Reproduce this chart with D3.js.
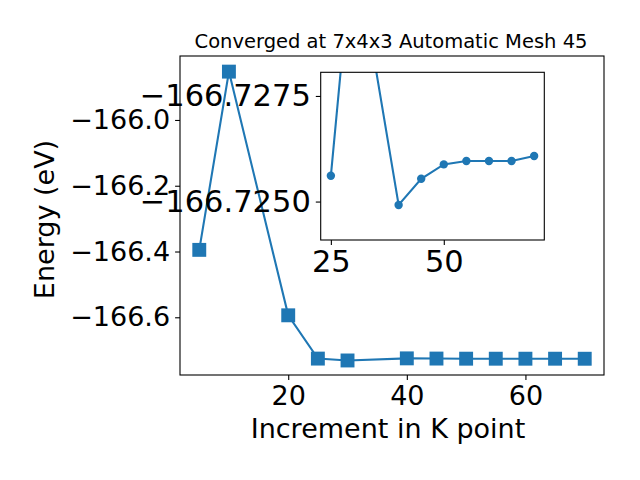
<!DOCTYPE html>
<html>
<head>
<meta charset="utf-8">
<script src="https://cdn.jsdelivr.net/npm/d3@7"></script>
<style>
  html, body { margin: 0; padding: 0; background: #fff; }
  svg { display: block; }
  text { font-family: "DejaVu Sans", sans-serif; fill: #000; }
</style>
</head>
<body>
<svg id="chart" width="640" height="480"></svg>
<script>
// ---- data ----
const kpoints = [5, 10, 20, 25, 30, 40, 45, 50, 55, 60, 65, 70];
const energies = [-166.395, -165.853, -166.594, -166.72561, -166.7313, -166.72492, -166.72554, -166.72588, -166.72596, -166.72596, -166.72596, -166.72608];
const insetK = [25, 30, 40, 45, 50, 55, 60, 65, 70];
const insetE = [-166.72561, -166.7313, -166.72492, -166.72554, -166.72588, -166.72596, -166.72596, -166.72596, -166.72608];
const mainXTicks = [20, 40, 60];
const mainYTicks = [-166.6, -166.4, -166.2, -166.0];
const insetXTicks = [25, 50];
const insetYTicks = [-166.7275, -166.7250];
const titleText = "Converged at 7x4x3 Automatic Mesh 45";
const xLabel = "Increment in K point";
const yLabel = "Energy (eV)";

const color = "#1f77b4";
const svg = d3.select("#chart");

// ---- main axes ----
const M = { left: 180, right: 604, top: 56, bottom: 375 };
const x = d3.scaleLinear().domain([1.75, 73.25]).range([M.left, M.right]);
const y = d3.scaleLinear().domain([-166.7755, -165.8055]).range([M.bottom, M.top]);

const fmt1 = d3.format(".1f");
const tickFont = "27px";
const insetFont = "30.5px";

const gx = svg.append("g").attr("transform", `translate(0,${M.bottom})`)
  .call(d3.axisBottom(x).tickValues(mainXTicks).tickSize(4.9).tickPadding(6).tickFormat(d3.format("d")));
const gy = svg.append("g").attr("transform", `translate(${M.left},0)`)
  .call(d3.axisLeft(y).tickValues(mainYTicks).tickSize(4.9).tickPadding(5).tickFormat(fmt1));
[gx, gy].forEach(g => {
  g.select(".domain").remove();
  g.selectAll(".tick line").attr("stroke", "#000").attr("stroke-width", 1.1);
  g.selectAll(".tick text").style("font-size", tickFont).style("font-family", "DejaVu Sans").attr("fill", "#000");
});

const line = d3.line().x((d, i) => x(kpoints[i])).y(d => y(d));
svg.append("path").datum(energies).attr("d", line)
  .attr("fill", "none").attr("stroke", color).attr("stroke-width", 2.1);
const ms = 13.9;
svg.selectAll("rect.mk").data(energies).enter().append("rect").attr("class", "mk")
  .attr("x", (d, i) => x(kpoints[i]) - ms / 2).attr("y", d => y(d) - ms / 2)
  .attr("width", ms).attr("height", ms).attr("fill", color);

svg.append("rect").attr("x", M.left).attr("y", M.top)
  .attr("width", M.right - M.left).attr("height", M.bottom - M.top)
  .attr("fill", "none").attr("stroke", "#000").attr("stroke-width", 1.1);

// labels
svg.append("text").attr("x", 388).attr("y", 438)
  .attr("text-anchor", "middle").style("font-size", "27px").text(xLabel);
svg.append("text").attr("transform", `translate(53.5,219.5) rotate(-90)`)
  .attr("text-anchor", "middle").style("font-size", "27px").text(yLabel);
svg.append("text").attr("x", (M.left + M.right) / 2 - 1).attr("y", 47.5)
  .attr("text-anchor", "middle").style("font-size", "19.5px").text(titleText);

// ---- inset axes ----
const I = { left: 320.7, right: 544.3, top: 72.3, bottom: 240 };
const ix = d3.scaleLinear().domain([22.75, 72.25]).range([I.left, I.right]);
const iy = d3.scaleLinear().domain([-166.72409, -166.72806]).range([I.bottom, I.top]);

svg.append("rect").attr("x", I.left).attr("y", I.top)
  .attr("width", I.right - I.left).attr("height", I.bottom - I.top).attr("fill", "#fff");

svg.append("clipPath").attr("id", "iclip").append("rect")
  .attr("x", I.left).attr("y", I.top).attr("width", I.right - I.left).attr("height", I.bottom - I.top);

const ig = svg.append("g").attr("clip-path", "url(#iclip)");
const iline = d3.line().x((d, i) => ix(insetK[i])).y(d => iy(d));
ig.append("path").datum(insetE).attr("d", iline)
  .attr("fill", "none").attr("stroke", color).attr("stroke-width", 2.1);
ig.selectAll("circle").data(insetE).enter().append("circle")
  .attr("cx", (d, i) => ix(insetK[i])).attr("cy", d => iy(d)).attr("r", 4.2).attr("fill", color);

const igx = svg.append("g").attr("transform", `translate(0,${I.bottom})`)
  .call(d3.axisBottom(ix).tickValues(insetXTicks).tickSize(4.9).tickPadding(5).tickFormat(d3.format("d")));
const igy = svg.append("g").attr("transform", `translate(${I.left},0)`)
  .call(d3.axisLeft(iy).tickValues(insetYTicks).tickSize(4.9).tickPadding(5).tickFormat(d3.format(".4f")));
[igx, igy].forEach(g => {
  g.select(".domain").remove();
  g.selectAll(".tick line").attr("stroke", "#000").attr("stroke-width", 1.1);
  g.selectAll(".tick text").style("font-size", insetFont).style("font-family", "DejaVu Sans").attr("fill", "#000");
});

svg.append("rect").attr("x", I.left).attr("y", I.top)
  .attr("width", I.right - I.left).attr("height", I.bottom - I.top)
  .attr("fill", "none").attr("stroke", "#000").attr("stroke-width", 1.1);
</script>
</body>
</html>
